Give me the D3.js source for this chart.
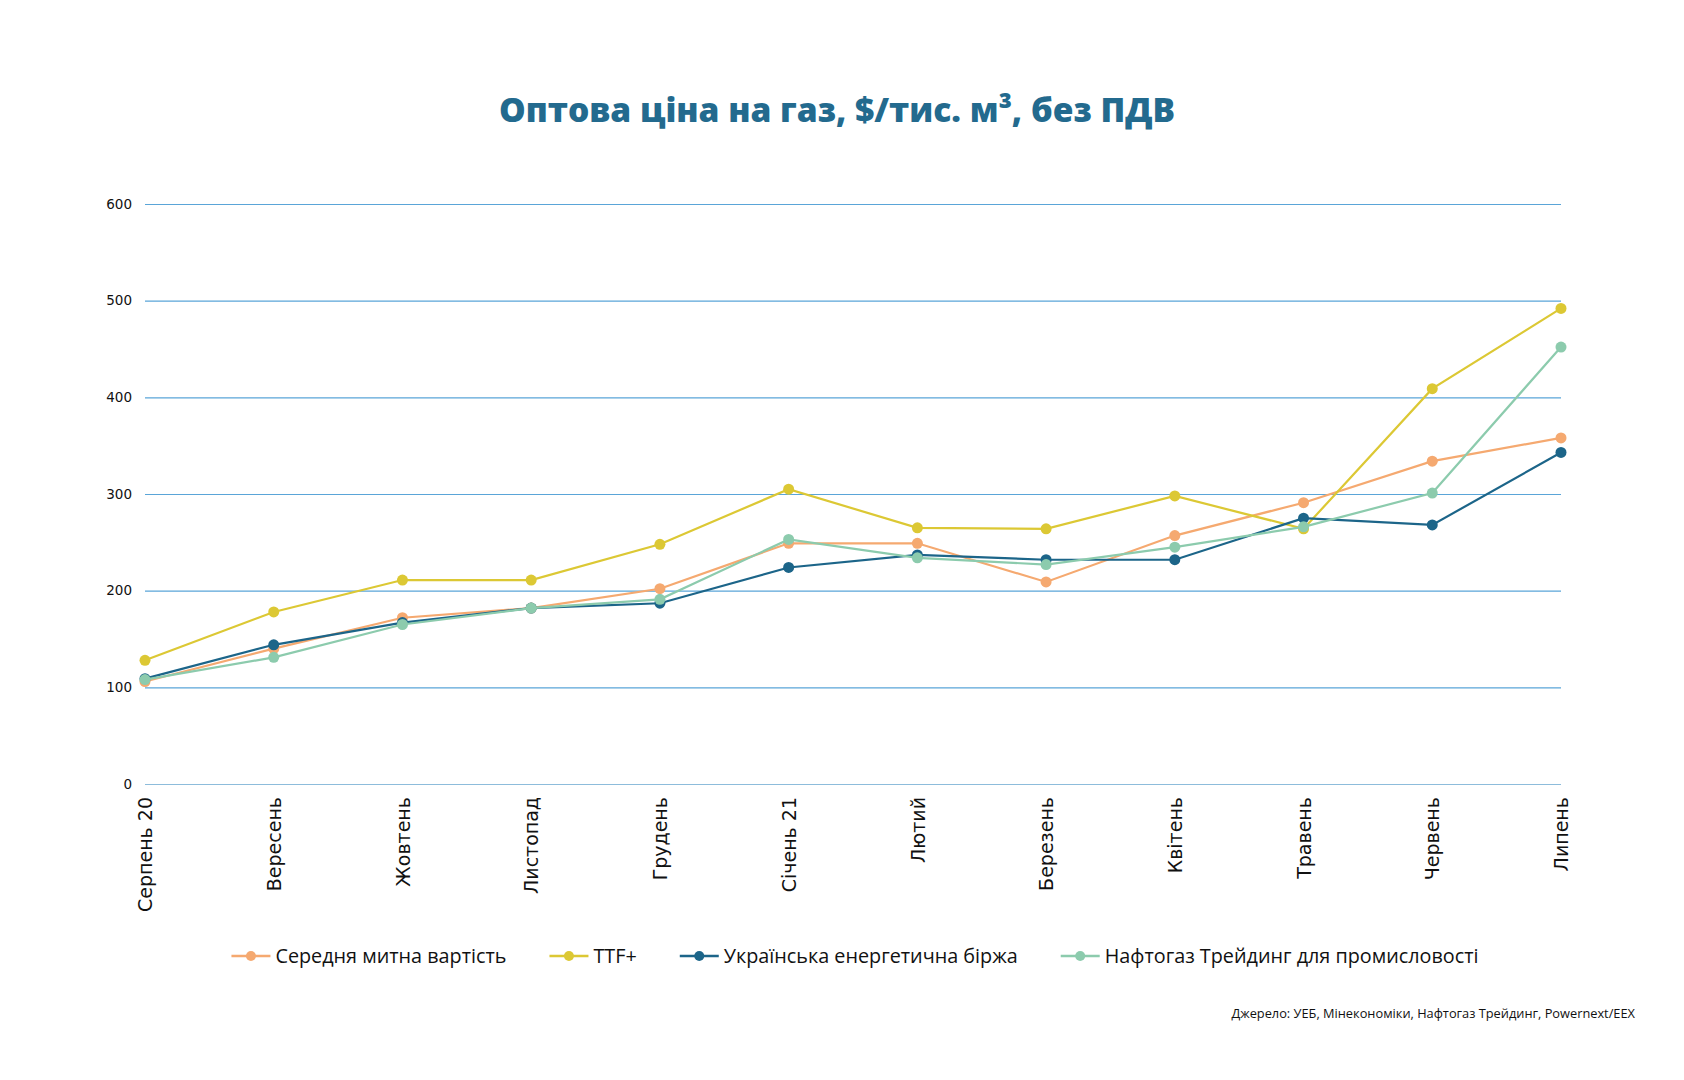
<!DOCTYPE html>
<html>
<head>
<meta charset="utf-8">
<script src="https://cdn.jsdelivr.net/npm/d3@7"></script>
<style>
  body { margin: 0; background: #fff; }
  svg { display: block; }
</style>
</head>
<body>
<div id="chart"></div>
<script>
// Data
const months = ["Серпень 20", "Вересень", "Жовтень", "Листопад", "Грудень", "Січень 21",
  "Лютий", "Березень", "Квітень", "Травень", "Червень", "Липень"];

const customsValue = [106, 140, 172, 182, 202, 249, 249, 209, 257, 291, 334, 358];
const ttfPlus = [128, 178, 211, 211, 248, 305, 265, 264, 298, 264, 409, 492];
const uebValue = [109, 144, 167, 182, 187, 224, 237, 232, 232, 275, 268, 343];
const naftogazValue = [108, 131, 165, 182, 191, 253, 234, 227, 245, 266, 301, 452];

const yTicks = [0, 100, 200, 300, 400, 500, 600];

const seriesNames = ["Середня митна вартість", "TTF+", "Українська енергетична біржа",
  "Нафтогаз Трейдинг для промисловості"];
const seriesColors = ["#f5a970", "#dcc834", "#1c6589", "#8ccbad"];

const series = [customsValue, ttfPlus, uebValue, naftogazValue].map((values, i) => ({
  name: seriesNames[i],
  color: seriesColors[i],
  values: values
}));

// SVG area
const svgWidth = 1684;
const svgHeight = 1080;

const margin = { top: 204, right: 123, bottom: 296, left: 145 };
const chartWidth = svgWidth - margin.left - margin.right;
const chartHeight = svgHeight - margin.top - margin.bottom;

const svg = d3.select("#chart")
  .append("svg")
  .attr("width", svgWidth)
  .attr("height", svgHeight);

// Title
svg.append("text")
  .attr("x", 837)
  .attr("y", 122)
  .attr("text-anchor", "middle")
  .attr("font-family", "'Open Sans', sans-serif")
  .attr("font-weight", 800)
  .attr("font-size", 33.5)
  .attr("fill", "#236a8e")
  .text("Оптова ціна на газ, $/тис. м³, без ПДВ");

const chartG = svg.append("g")
  .attr("transform", `translate(${margin.left}, ${margin.top})`);

// Scales
const x = d3.scalePoint()
  .domain(months)
  .range([0, chartWidth]);

const y = d3.scaleLinear()
  .domain([0, 600])
  .range([chartHeight, 0]);

// Gridlines + y labels
const yAxis = d3.axisLeft(y)
  .tickValues(yTicks)
  .tickSize(-chartWidth)
  .tickPadding(13);

const yAxisG = chartG.append("g").call(yAxis);
yAxisG.select(".domain").remove();
yAxisG.selectAll(".tick line")
  .attr("stroke", d => d === 0 ? "#8dbcdb" : "#5aa5d8")
  .attr("stroke-width", 1.2);
yAxisG.selectAll(".tick text")
  .attr("font-family", "'DejaVu Sans', sans-serif")
  .attr("font-size", 13.5)
  .attr("fill", "#111");

// X axis labels (rotated)
const xAxis = d3.axisBottom(x).tickSize(0).tickPadding(0);
const xAxisG = chartG.append("g")
  .attr("transform", `translate(0, ${chartHeight})`)
  .call(xAxis);
xAxisG.select(".domain").remove();
xAxisG.selectAll(".tick text")
  .attr("font-family", "'DejaVu Sans', sans-serif")
  .attr("font-size", 19)
  .attr("fill", "#111")
  .attr("text-anchor", "end")
  .attr("dy", "0.35em")
  .attr("transform", "translate(0, 13) rotate(-90)")
  .attr("x", 0)
  .attr("y", 0);

// Lines and points
const line = d3.line()
  .x((d, i) => x(months[i]))
  .y(d => y(d));

const seriesG = chartG.selectAll(".series")
  .data(series)
  .enter()
  .append("g")
  .attr("class", "series");

seriesG.append("path")
  .attr("d", d => line(d.values))
  .attr("fill", "none")
  .attr("stroke", d => d.color)
  .attr("stroke-width", 2.2);

seriesG.selectAll("circle")
  .data(d => d.values.map(v => ({ v: v, color: d.color })))
  .enter()
  .append("circle")
  .attr("cx", (d, i) => x(months[i]))
  .attr("cy", d => y(d.v))
  .attr("r", 5.5)
  .attr("fill", d => d.color);

// Legend
const legendG = svg.append("g")
  .attr("transform", "translate(0, 956)");

const gap = 43;
let cursor = 0;
const legendItems = [];
series.forEach(s => {
  const item = legendG.append("g");
  item.append("line")
    .attr("x1", 0).attr("x2", 39)
    .attr("y1", 0).attr("y2", 0)
    .attr("stroke", s.color)
    .attr("stroke-width", 2.5);
  item.append("circle")
    .attr("cx", 19.5).attr("cy", 0).attr("r", 5)
    .attr("fill", s.color);
  const t = item.append("text")
    .attr("x", 44)
    .attr("dy", "0.35em")
    .attr("font-family", "'Open Sans', sans-serif")
    .attr("font-size", 19.8)
    .attr("fill", "#111")
    .text(s.name);
  const w = 44 + t.node().getComputedTextLength();
  legendItems.push({ item: item, offset: cursor });
  cursor += w + gap;
});
const legendWidth = cursor - gap;
const legendStart = 855 - legendWidth / 2;
legendItems.forEach(d => d.item.attr("transform", `translate(${legendStart + d.offset}, 0)`));

// Source
svg.append("text")
  .attr("x", 1635)
  .attr("y", 1018)
  .attr("text-anchor", "end")
  .attr("font-family", "'Open Sans', sans-serif")
  .attr("font-size", 12.8)
  .attr("fill", "#111")
  .text("Джерело: УЕБ, Мінекономіки, Нафтогаз Трейдинг, Powernext/EEX");
</script>
</body>
</html>
